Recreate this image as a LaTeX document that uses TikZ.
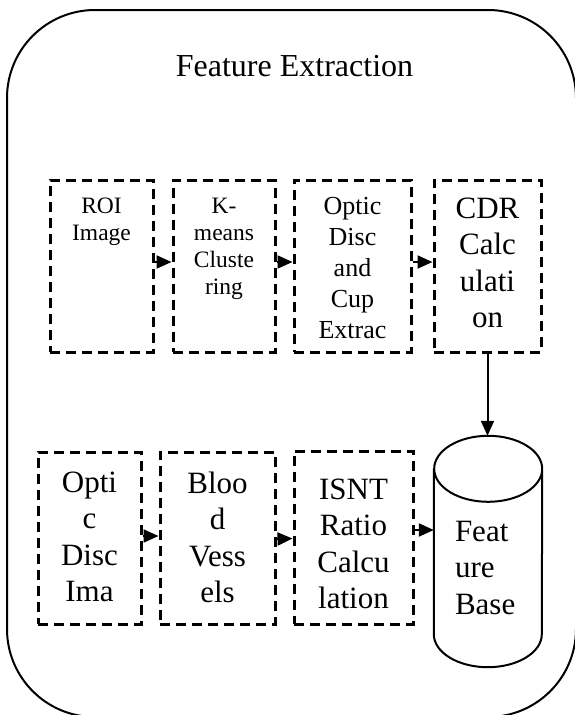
\documentclass[tikz,border=0pt]{standalone}
\usepackage{fontspec}
\setmainfont{Liberation Serif}
\usetikzlibrary{arrows.meta}
\newcommand{\fsmall}{\fontsize{23.5}{27}\selectfont}
\newcommand{\fmid}{\fontsize{26}{31}\selectfont}
\newcommand{\fbig}{\fontsize{31}{36.5}\selectfont}
\tikzset{
  stage/.style={draw, line width=3pt, dash pattern=on 10pt off 6pt, minimum height=172pt, inner sep=0pt},
  stagetext/.style={anchor=north, align=center, inner sep=0pt},
  flow/.style={line width=2pt, -{Triangle[length=15pt,width=13pt]}},
}
\begin{document}
\begin{tikzpicture}[x=1pt,y=-1pt]
	\useasboundingbox (0,0) rectangle (574,715);
	\draw[line width=2pt, rounded corners=88pt] (7,10) rectangle (576,717);
	\node[font=\fontsize{32}{38}\selectfont, anchor=base] (title) at (294.5,76) {Feature Extraction};
	% top row
	\node[stage, minimum width=103pt, label={[stagetext, yshift=-19pt, font=\fsmall]north:{ROI\\Image}}] (roi) at (101.5,266) {};
	\node[stage, minimum width=102pt, label={[stagetext, yshift=-19pt, font=\fsmall]north:{K-\\means\\Cluste\\ring}}] (kmeans) at (224,266) {};
	\node[stage, minimum width=117pt, label={[stagetext, yshift=-19pt, font=\fmid]north:{Optic\\Disc\\and\\Cup\\Extrac}}] (optic) at (352.5,266) {};
	\node[stage, minimum width=107pt, label={[stagetext, yshift=-19pt, font=\fbig]north:{CDR\\Calc\\ulati\\on}}] (cdr) at (487.5,266) {};
	% bottom row
	\node[stage, minimum width=103pt, label={[stagetext, yshift=-21pt, font=\fbig]north:{Opti\\c\\Disc\\Ima}}] (discimg) at (89.5,538) {};
	\node[stage, minimum width=115pt, label={[stagetext, yshift=-21pt, font=\fbig]north:{Bloo\\d\\Vess\\els}}] (vessels) at (217.5,538) {};
	\node[stage, minimum width=119pt, minimum height=173pt, label={[stagetext, yshift=-29pt, font=\fbig]north:{ISNT\\Ratio\\Calcu\\lation}}] (isnt) at (353.5,537.5) {};
	\node[minimum width=108pt, minimum height=231pt, inner sep=0pt, label={[stagetext, yshift=-85pt, font=\fbig, align=left, text width=66pt]north:{Feat\\ure\\Base}}] (base) at (488,551.5) {};
	\draw[line width=2pt] ([yshift=-33pt]base.north west) -- ([yshift=33pt]base.south west)
		arc[start angle=180, end angle=360, x radius=54pt, y radius=33pt]
		-- ([yshift=-33pt]base.north east)
		arc[start angle=0, end angle=360, x radius=54pt, y radius=33pt];
	% arrows
	\foreach \a/\b in {roi/kmeans, kmeans/optic, optic/cdr}
		\draw[flow] ([yshift=4pt]\a.east) -- ([yshift=4pt]\b.west);
	\draw[flow] ([yshift=2pt]discimg.east) -- ([yshift=2pt]vessels.west);
	\draw[flow] ([yshift=-1pt]vessels.east) -- ([yshift=-1pt]isnt.west);
	\draw[flow] ([yshift=7.5pt]isnt.east) -- ([yshift=7.5pt]isnt.east -| base.west);
	\draw[flow] (cdr.south) -- (cdr.south |- base.north);
\end{tikzpicture}
\end{document}
